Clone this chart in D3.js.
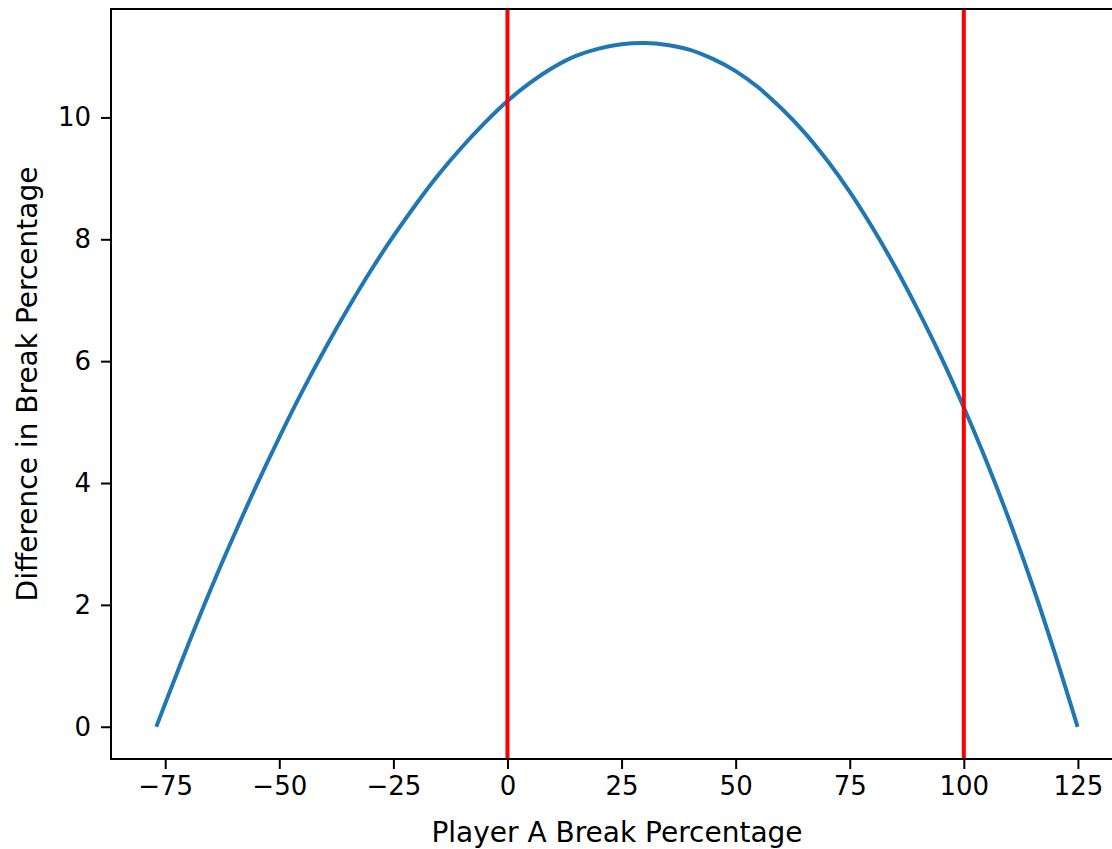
<!DOCTYPE html>
<html>
<head>
<meta charset="utf-8">
<script src="https://cdn.jsdelivr.net/npm/d3@7"></script>
<style>
  body { margin: 0; background: #fff; }
  svg { display: block; }
  text { font-family: "DejaVu Sans", sans-serif; fill: #000; }
</style>
</head>
<body>
<script>
// curve values
var breakPct = [-76.8, -75, -70, -65, -60, -55, -50, -45, -40, -35, -30, -25, -20, -15, -10, -5,
	0, 5, 10, 15, 20, 25, 30, 35, 40, 45, 50, 55, 60, 65, 70, 75, 80, 85, 90, 95,
	100, 105, 110, 115, 120, 124.8];
var diffPct = [0.03, 0.38, 1.34, 2.26, 3.13, 3.96, 4.75, 5.50, 6.20, 6.86, 7.48, 8.05, 8.58, 9.07, 9.51, 9.91,
	10.27, 10.57, 10.82, 11.01, 11.13, 11.20, 11.22, 11.19, 11.11, 10.96, 10.76, 10.49, 10.15, 9.76, 9.30, 8.78, 8.19, 7.54, 6.83, 6.07,
	5.24, 4.35, 3.38, 2.33, 1.19, 0.03];
var redLines = [0, 100];
var xTicks = [-75, -50, -25, 0, 25, 50, 75, 100, 125];
var yTicks = [0, 2, 4, 6, 8, 10];

var W = 1112, H = 849;
var plotL = 111, plotR = 1123, plotT = 9, plotB = 759;

var svg = d3.select('body').append('svg')
	.attr('width', W)
	.attr('height', H);

// matplotlib-like 5% margins
function pad(ext) {
	var m = (ext[1] - ext[0]) * 0.05;
	return [ext[0] - m, ext[1] + m];
}

var x = d3.scaleLinear().domain(pad(d3.extent(breakPct))).range([plotL, plotR]);
var y = d3.scaleLinear().domain(pad(d3.extent(diffPct))).range([plotB, plotT]);

var fmt = function(d) { return d < 0 ? '\u2212' + Math.abs(d) : '' + d; };

var pts = breakPct.map(function(v, i) { return [v, diffPct[i]]; });

var line = d3.line()
	.x(function(d) { return x(d[0]); })
	.y(function(d) { return y(d[1]); })
	.curve(d3.curveCatmullRom);

svg.append('path')
	.datum(pts)
	.attr('d', line)
	.attr('fill', 'none')
	.attr('stroke', '#1f77b4')
	.attr('stroke-width', 4)
	.attr('stroke-linecap', 'square');

//RED VERTICAL LINES
svg.selectAll('line.red').data(redLines).enter().append('line')
	.attr('class', 'red')
	.attr('x1', function(d) { return x(d); })
	.attr('x2', function(d) { return x(d); })
	.attr('y1', plotT)
	.attr('y2', plotB)
	.attr('stroke', '#ff0000')
	.attr('stroke-width', 4);

//AXES
var xAxis = svg.append('g')
	.attr('transform', 'translate(0,' + plotB + ')')
	.call(d3.axisBottom(x).tickValues(xTicks).tickFormat(fmt).tickSize(10).tickPadding(8).tickSizeOuter(0));

var yAxis = svg.append('g')
	.attr('transform', 'translate(' + plotL + ',0)')
	.call(d3.axisLeft(y).tickValues(yTicks).tickFormat(fmt).tickSize(10).tickPadding(10).tickSizeOuter(0));

[xAxis, yAxis].forEach(function(g) {
	g.select('.domain').remove();
	g.selectAll('.tick line').attr('stroke', '#000').attr('stroke-width', 2);
	g.selectAll('.tick text').attr('font-size', 26).attr('font-family', 'DejaVu Sans').attr('fill', '#000');
});

// spines (right one falls outside the window)
svg.append('rect')
	.attr('x', plotL)
	.attr('y', plotT)
	.attr('width', plotR - plotL)
	.attr('height', plotB - plotT)
	.attr('fill', 'none')
	.attr('stroke', '#000')
	.attr('stroke-width', 2);

//LABELS
svg.append('text')
	.attr('x', (plotL + plotR) / 2)
	.attr('y', 842)
	.attr('text-anchor', 'middle')
	.attr('font-size', 28)
	.text('Player A Break Percentage');

svg.append('text')
	.attr('transform', 'translate(37,' + (plotT + plotB) / 2 + ') rotate(-90)')
	.attr('text-anchor', 'middle')
	.attr('font-size', 28)
	.text('Difference in Break Percentage');
</script>
</body>
</html>
